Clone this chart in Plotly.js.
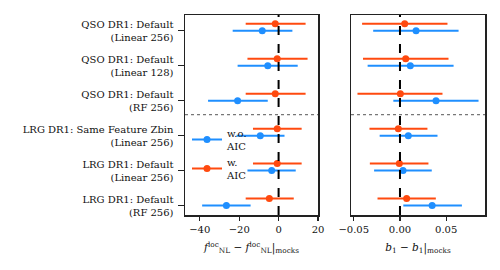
<!DOCTYPE html>
<html><head><meta charset="utf-8">
<script src="https://cdn.plot.ly/plotly-3.0.1.min.js"></script>
<style>html,body{margin:0;padding:0;background:#fff}#chart{width:500px;height:270px}</style>
</head><body><div id="chart"></div>
<script>
// categories bottom (0) to top (5)
const categories = [
  "LRG DR1: Default<br>(RF 256)",
  "LRG DR1: Default<br>(Linear 256)",
  "LRG DR1: Same Feature Zbin<br>(Linear 256)",
  "QSO DR1: Default<br>(RF 256)",
  "QSO DR1: Default<br>(Linear 128)",
  "QSO DR1: Default<br>(Linear 256)"
];
const catPos = [0, 1, 2, 3, 4, 5];
const redOffset = 0.2;

// f_NL panel
const fnlWo      = [-26.5, -3.5, -9.3, -20.8, -5.5, -8.3];
const fnlWoLo    = [12.3, 12.3, 12.0, 15.0, 15.3, 15.0];
const fnlWoHi    = [12.3, 12.2, 12.3, 15.3, 15.2, 15.3];
const fnlW       = [-4.7, -0.7, -0.7, -1.7, -0.7, -1.7];
const fnlWLo     = [12.0, 12.3, 12.3, 15.0, 15.1, 15.0];
const fnlWHi     = [12.4, 12.4, 12.4, 15.4, 15.4, 15.4];

// b1 panel
const b1Wo       = [0.0348, 0.0033, 0.0090, 0.0390, 0.0112, 0.0174];
const b1WoLo     = [0.0312, 0.0313, 0.0310, 0.0462, 0.0462, 0.0464];
const b1WoHi     = [0.0322, 0.0311, 0.0316, 0.0460, 0.0468, 0.0460];
const b1W        = [0.0072, -0.0007, -0.0018, 0.0004, 0.0062, 0.0051];
const b1WLo      = [0.0315, 0.0319, 0.0312, 0.0464, 0.0462, 0.0461];
const b1WHi      = [0.0316, 0.0315, 0.0315, 0.0456, 0.0463, 0.0463];

const legendNames = ["w.o.<br>AIC", "w.<br>AIC"];
const blue = "#1f8fff", red = "#ff4a0f";

const yRed = catPos.map(v => v + redOffset);

function tr(x, y, lo, hi, color, xa, ya) {
  return {
    type: "scatter", mode: "markers", x: x, y: y, xaxis: xa, yaxis: ya,
    marker: {color: color, size: 7},
    error_x: {type: "data", symmetric: false, array: hi, arrayminus: lo, color: color, thickness: 2, width: 0},
    showlegend: false, hoverinfo: "skip"
  };
}

const data = [
  tr(fnlWo, catPos, fnlWoLo, fnlWoHi, blue, "x", "y"),
  tr(fnlW, yRed, fnlWLo, fnlWHi, red, "x", "y"),
  tr(b1Wo, catPos, b1WoLo, b1WoHi, blue, "x2", "y2"),
  tr(b1W, yRed, b1WLo, b1WHi, red, "x2", "y2"),
  {type: "scatter", mode: "lines+markers", x: [null], y: [null], name: legendNames[0],
   line: {color: blue, width: 2}, marker: {color: blue, size: 7}, xaxis: "x", yaxis: "y"},
  {type: "scatter", mode: "lines+markers", x: [null], y: [null], name: legendNames[1],
   line: {color: red, width: 2}, marker: {color: red, size: 7}, xaxis: "x", yaxis: "y"}
];

const font = {family: "DejaVu Serif, Liberation Serif, serif", size: 10, color: "#111"};
const axisCommon = {showline: true, mirror: true, linecolor: "#222", linewidth: 1.5,
  showgrid: false, zeroline: false, ticks: "outside", ticklen: 4, tickwidth: 1.2, tickcolor: "#222"};

const layout = {
  width: 500, height: 270,
  margin: {l: 0, r: 0, t: 15, b: 55},
  paper_bgcolor: "#fff", plot_bgcolor: "#fff",
  font: font,
  showlegend: true,
  legend: {x: 0.374, y: 0.475, xanchor: "left", yanchor: "top", bgcolor: "rgba(0,0,0,0)",
           font: {family: font.family, size: 10, color: "#111"}, tracegroupgap: 0, itemwidth: 30},
  xaxis: Object.assign({}, axisCommon, {domain: [0.37, 0.636], range: [-47.5, 20],
    tickvals: [-40, -20, 0, 20], anchor: "y",
    title: {text: "<i>f</i><sup>loc</sup><sub>NL</sub> − <i>f</i><sup>loc</sup><sub>NL</sub>|<sub>mocks</sub>", font: {size: 10.5}, standoff: 10}}),
  yaxis: Object.assign({}, axisCommon, {domain: [0, 1], range: [-0.27, 5.45],
    tickvals: catPos, ticktext: categories, ticklen: 6, ticklabelstandoff: 2, anchor: "x"}),
  xaxis2: Object.assign({}, axisCommon, {domain: [0.702, 0.97], range: [-0.053, 0.092],
    tickvals: [-0.05, 0, 0.05], tickformat: ".2f", anchor: "y2",
    title: {text: "<i>b</i><sub>1</sub> − <i>b</i><sub>1</sub>|<sub>mocks</sub>", font: {size: 10.5}, standoff: 10}}),
  yaxis2: Object.assign({}, axisCommon, {domain: [0, 1], range: [-0.27, 5.45],
    showticklabels: false, ticks: "", anchor: "x2"}),
  shapes: [
    {type: "line", xref: "x", yref: "y domain", x0: 0, x1: 0, y0: 0, y1: 1,
     line: {color: "#000", width: 2, dash: "dash"}, layer: "above"},
    {type: "line", xref: "x2", yref: "y2 domain", x0: 0, x1: 0, y0: 0, y1: 1,
     line: {color: "#000", width: 2, dash: "dash"}, layer: "above"},
    {type: "line", xref: "x domain", yref: "y", x0: 0, x1: 1, y0: 2.6, y1: 2.6,
     line: {color: "#777", width: 1.3, dash: "dot"}, layer: "above"},
    {type: "line", xref: "x2 domain", yref: "y2", x0: 0, x1: 1, y0: 2.6, y1: 2.6,
     line: {color: "#777", width: 1.3, dash: "dot"}, layer: "above"}
  ]
};

Plotly.newPlot("chart", data, layout, {staticPlot: true, displayModeBar: false});
</script></body></html>
